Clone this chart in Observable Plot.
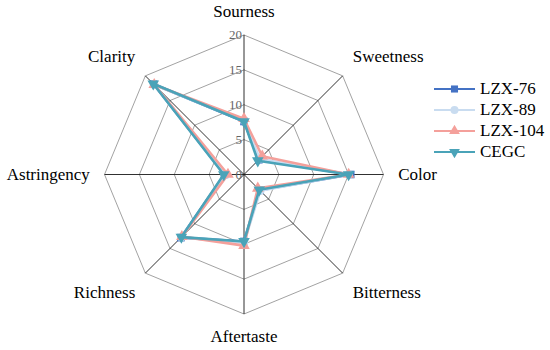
<!DOCTYPE html>
<html><head><meta charset="utf-8">
<script src="https://cdn.jsdelivr.net/npm/d3@7"></script>
<script src="https://cdn.jsdelivr.net/npm/@observablehq/plot@0.6"></script>
<style>
body{margin:0;background:#fff}
#wrap{position:relative;width:550px;height:350px}
#legend{position:absolute;left:434px;top:78px;font-family:"Liberation Serif",Tinos,"Times New Roman","DejaVu Serif",serif;font-size:17px;color:#000}
#legend .row{display:flex;align-items:center;height:21px}
#legend svg{margin-right:5px}
</style>
</head><body><div id="wrap"><div id="legend"></div></div>
<script>
const attributes = ["Sourness","Sweetness","Color","Bitterness","Aftertaste","Richness","Astringency","Clarity"];
const seriesNames = ["LZX-76","LZX-89","LZX-104","CEGC"];
const lzx76  = [7.6, 3.0, 15.3, 3.2, 9.6, 12.8, 2.8, 18.3];
const lzx89  = [7.7, 3.2, 15.0, 3.3, 9.8, 12.7, 2.6, 18.2];
const lzx104 = [8.0, 3.7, 15.0, 2.8, 10.2, 12.6, 2.3, 18.2];
const cegc   = [7.6, 2.8, 15.0, 3.1, 9.6, 12.7, 2.9, 18.4];
const seriesValues = [lzx76, lzx89, lzx104, cegc];
const levels = [0, 5, 10, 15, 20];
const colors = ["#4472c4", "#c9dcf0", "#f4a09b", "#4aa3b8"];
const symbols = ["square", "circle", "triangle", "triangle"];
const rotations = [0, 0, 0, 180];

const font = '"Liberation Serif", Tinos, "Times New Roman", "DejaVu Serif", serif';
const cx = 243.5, cy = 174, R = 139.5, maxV = 20;
const ang = i => i * Math.PI / 4;
const px = (i, v) => v * Math.sin(ang(i));
const py = (i, v) => v * Math.cos(ang(i));

const rings = levels.filter(l => l > 0).flatMap(l =>
  d3.range(attributes.length + 1).map(k => ({level: l, x: px(k % 8, l), y: py(k % 8, l)})));

const spokes = attributes.map((a, i) => ({x2: px(i, maxV), y2: py(i, maxV)}));

const anchors = ["middle","start","start","start","middle","end","end","end"];
const labelRx = i => (i % 2 === 0 ? 22.1 : 22.05);
const labelRy = i => (i % 2 === 0 ? 23.3 : 23.9);
const labels = attributes.map((a, i) => ({text: a, x: px(i, labelRx(i)), y: py(i, labelRy(i)), anchor: anchors[i]}));

const seriesRows = seriesNames.map((s, si) =>
  seriesValues[si].map((v, i) => ({series: s, attr: attributes[i], value: v, x: px(i, v), y: py(i, v)})));

const marks = [
  Plot.line(rings, {x: "x", y: "y", z: "level", stroke: "#8a8a8a", strokeWidth: 0.8}),
  Plot.link(spokes, {x1: 0, y1: 0, x2: "x2", y2: "y2", stroke: "#1a1a1a", strokeWidth: 0.9}),
  Plot.text(levels, {x: 0, y: d => d, text: d => String(d), textAnchor: "end", dx: -2, fill: "#666", fontSize: 13, fontFamily: font}),
  ...["start", "middle", "end"].map(a =>
    Plot.text(labels.filter(d => d.anchor === a), {x: "x", y: "y", text: "text", textAnchor: a, lineAnchor: "middle", fill: "#000", fontSize: 17, fontFamily: font}))
];
seriesNames.forEach((s, si) => {
  const pts = seriesRows[si];
  marks.push(Plot.line([...pts, pts[0]], {x: "x", y: "y", stroke: colors[si], strokeWidth: 2.6, strokeLinejoin: "round"}));
  marks.push(Plot.dot(pts, {x: "x", y: "y", symbol: symbols[si], r: 4.3, fill: colors[si], stroke: "none", rotate: rotations[si]}));
});

const chart = Plot.plot({
  width: 550, height: 350, margin: 0,
  x: {domain: [-maxV, maxV], range: [cx - R, cx + R], axis: null},
  y: {domain: [-maxV, maxV], range: [cy + R, cy - R], axis: null},
  style: {background: "#fff", fontFamily: font, overflow: "visible"},
  marks
});
document.getElementById("wrap").prepend(chart);

const legend = document.getElementById("legend");
seriesNames.forEach((s, si) => {
  const row = document.createElement("div");
  row.className = "row";
  const sym = d3.symbol(d3["symbol" + symbols[si][0].toUpperCase() + symbols[si].slice(1)], Math.PI * 16)();
  row.innerHTML = `<svg width="41" height="12"><line x1="0" x2="41" y1="6" y2="6" stroke="${colors[si]}" stroke-width="2"/><path d="${sym}" transform="translate(20.5,6) rotate(${rotations[si]})" fill="${colors[si]}"/></svg><span>${s}</span>`;
  legend.appendChild(row);
});
</script>
</body></html>
